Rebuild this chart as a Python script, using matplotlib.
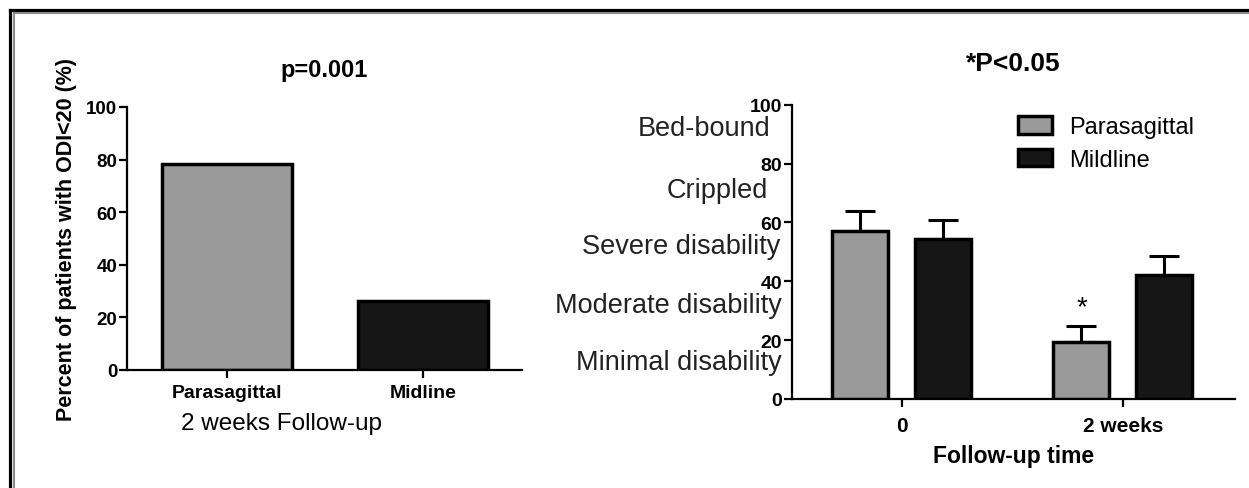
import matplotlib
matplotlib.use("Agg")
import matplotlib.pyplot as plt
from matplotlib.lines import Line2D
import numpy as np

plt.rcParams['font.family'] = ['Liberation Sans', 'DejaVu Sans']

# left panel: % of patients with ODI<20 at 2 weeks
groups = ['Parasagittal', 'Midline']
pct_odi20 = [78.3, 26.3]

# right panel: mean ODI with SEM by follow-up time
times = ['0', '2 weeks']
para_mean = [57.2, 19.2]
para_err = [6.8, 5.7]
mid_mean = [54.3, 42.1]
mid_err = [6.5, 6.6]
series_names = ['Parasagittal', 'Mildline']

# disability bands shown beside the y axis
band_labels = ['Bed-bound', 'Crippled', 'Severe disability', 'Moderate disability', 'Minimal disability']
band_levels = [92, 71, 52, 32, 12.5]
band_right_px = [770, 768, 780, 782, 782]   # right edge of each label, pixels

gray = '#9a9a9a'
black = '#161616'

W, H = 1249, 489
fig = plt.figure(figsize=(W / 100, H / 100), dpi=100)


def rect(x0, y0, x1, y1):
    # pixel box (top-left origin) -> figure fraction
    return [x0 / W, 1 - y1 / H, (x1 - x0) / W, (y1 - y0) / H]


def style(ax, pad_x):
    for s in ['top', 'right']:
        ax.spines[s].set_visible(False)
    for s in ['left', 'bottom']:
        ax.spines[s].set_linewidth(1.6)
    ax.tick_params(axis='both', direction='out', length=6, width=1.6)
    ax.tick_params(axis='y', pad=1)
    ax.tick_params(axis='x', pad=pad_x)


# ---- left chart
ax1 = fig.add_axes(rect(127, 108, 522, 371))
x1 = np.arange(len(groups))
ax1.bar(x1, pct_odi20, width=0.66, color=[gray, black], edgecolor='black', linewidth=2.5)
ax1.set_xlim(-0.51, 1.505)
ax1.set_ylim(0, 100)
ax1.set_yticks([0, 20, 40, 60, 80, 100])
ax1.set_xticks(x1)
ax1.set_xticklabels(groups, fontsize=14, fontweight='bold')
for lb in ax1.get_yticklabels():
    lb.set_fontsize(13.5)
    lb.set_fontweight('bold')
style(ax1, 4)
ax1.set_title('p=0.001', fontsize=17, fontweight='bold', pad=22)
ax1.set_ylabel('Percent of patients with ODI<20 (%)', fontsize=15.5, fontweight='bold', va='center')
ax1.yaxis.set_label_coords(-0.152, 0.5)
ax1.set_xlabel('2 weeks Follow-up', fontsize=17.5, va='baseline')
ax1.xaxis.set_label_coords(0.392, -0.224)

# ---- right chart
ax2 = fig.add_axes(rect(791.7, 105.7, 1235, 400))
x2 = np.arange(len(times))
off, bw = 0.187, 0.253
b1 = ax2.bar(x2 - off, para_mean, width=bw, color=gray, edgecolor='black', linewidth=2.5,
             label=series_names[0], zorder=3)
b2 = ax2.bar(x2 + off, mid_mean, width=bw, color=black, edgecolor='black', linewidth=2.5,
             label=series_names[1], zorder=3)
ax2.errorbar(x2 - off, para_mean, yerr=[np.zeros(2), para_err], fmt='none', ecolor='black',
             elinewidth=2.2, capsize=11, capthick=2.2, zorder=2)
ax2.errorbar(x2 + off, mid_mean, yerr=[np.zeros(2), mid_err], fmt='none', ecolor='black',
             elinewidth=2.2, capsize=11, capthick=2.2, zorder=2)
ax2.text(x2[1] - off, para_mean[1] + para_err[1] + 4, '*', fontsize=20,
         ha='center', va='baseline')
ax2.set_xlim(-0.498, 1.508)
ax2.set_ylim(0, 100)
ax2.set_yticks([0, 20, 40, 60, 80, 100])
ax2.set_xticks(x2)
ax2.set_xticklabels(times, fontsize=15, fontweight='bold')
for lb in ax2.get_yticklabels():
    lb.set_fontsize(14)
    lb.set_fontweight('bold')
style(ax2, 6)
ax2.set_title('*P<0.05', fontsize=19, fontweight='bold', pad=25)
ax2.set_xlabel('Follow-up time', fontsize=16.5, fontweight='bold', va='baseline')
ax2.xaxis.set_label_coords(0.5, -0.214)

ax_w = 1235 - 791.7
for txt, lev, xr in zip(band_labels, band_levels, band_right_px):
    ax2.text((xr - 791.7) / ax_w, lev, txt, transform=ax2.get_yaxis_transform(), fontsize=19.5,
             ha='right', va='center', color='#222222')

ax2.legend(handles=[b1, b2], loc='upper left', bbox_to_anchor=(1018 / W, 1 - 117 / H),
           bbox_transform=fig.transFigure, frameon=False, fontsize=17,
           handlelength=1.45, handleheight=0.78, handletextpad=0.7,
           labelspacing=0.45, borderpad=0, borderaxespad=0)

# double frame round the figure (top and left only)
fig.add_artist(Line2D([9.5 / W, 9.5 / W], [0, 1 - 10.5 / H], color='black', lw=2.3))
fig.add_artist(Line2D([9.5 / W, 1], [1 - 10.5 / H, 1 - 10.5 / H], color='black', lw=2.3))
fig.add_artist(Line2D([13.5 / W, 13.5 / W], [0, 1 - 14 / H], color='#8a8a8a', lw=1.5))
fig.add_artist(Line2D([13.5 / W, 1], [1 - 14 / H, 1 - 14 / H], color='#8a8a8a', lw=1.5))

fig.savefig('out.png', dpi=100)
